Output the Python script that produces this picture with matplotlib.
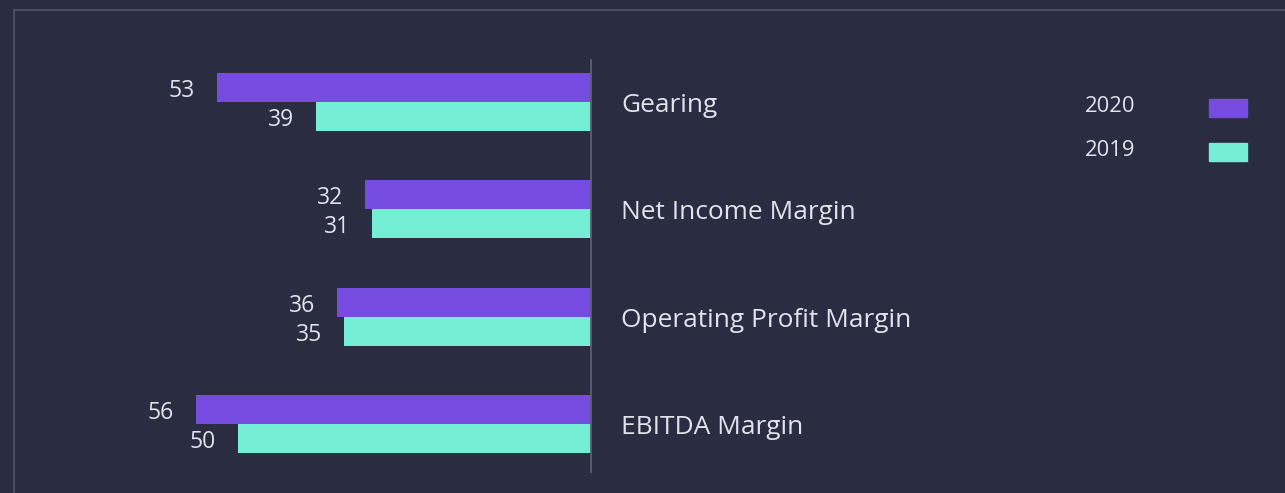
import numpy as np
import matplotlib.pyplot as plt
from matplotlib.lines import Line2D

plt.rcParams['font.family'] = ['Open Sans', 'DejaVu Sans']

categories = ['Gearing', 'Net Income Margin', 'Operating Profit Margin', 'EBITDA Margin']
values_2020 = [53, 32, 36, 56]
values_2019 = [39, 31, 35, 50]
years = ['2020', '2019']

bg = '#2a2c42'
purple = '#764ce0'
teal = '#74efd6'
txt = '#e2e2ea'

W, H = 1285, 493
fig = plt.figure(figsize=(W / 100, H / 100), dpi=100, facecolor=bg)
ax = fig.add_axes([0, 0, 1, 1])
ax.set_facecolor(bg)

# pixel scale: zero line at x=591, ~7.06 px per unit
scale = 7.06
x0 = 591
ax.set_xlim(x0 / scale, -(W - x0) / scale)  # inverted: bars grow to the left

# groups 107.4 px apart, first centred at y=102
step = 107.4
c0 = 102
ax.set_ylim((H - c0) / step, -c0 / step)

y = np.arange(len(categories))
h = 29 / step
ax.barh(y - h / 2, values_2020, height=h, color=purple, label=years[0])
ax.barh(y + h / 2, values_2019, height=h, color=teal, label=years[1])

gap = 22 / scale
for i in range(len(categories)):
    ax.text(values_2020[i] + gap, y[i] - h / 2 + 0.03, str(values_2020[i]),
            ha='right', va='center', color=txt, fontsize=16.5)
    ax.text(values_2019[i] + gap, y[i] + h / 2 + 0.03, str(values_2019[i]),
            ha='right', va='center', color=txt, fontsize=16.5)
    ax.text(-30 / scale, y[i] + 0.03, categories[i], ha='left', va='center',
            color=txt, fontsize=18.9)

# zero line
ax.plot([0, 0], [(60 - c0) / step, (472 - c0) / step], color='#5c5e72', lw=1.3)

# legend drawn by hand
leg_y = [106, 150]
for k, (lab, col) in enumerate(zip(years, [purple, teal])):
    fig.text(1085 / W, 1 - leg_y[k] / H, lab, ha='left', va='center',
             color=txt, fontsize=15.8)
    fig.patches.append(plt.Rectangle((1209 / W, 1 - (leg_y[k] + 11) / H), 38 / W, 18 / H,
                                     transform=fig.transFigure, color=col, figure=fig))

ax.axis('off')

# frame lines
fc = '#4b4d62'
fig.add_artist(Line2D([14 / W, 14 / W], [0, 1 - 10 / H], color=fc, lw=1.5))
fig.add_artist(Line2D([14 / W, 1], [1 - 10 / H, 1 - 10 / H], color=fc, lw=1.5))

plt.savefig('out.png', dpi=100, facecolor=bg)
